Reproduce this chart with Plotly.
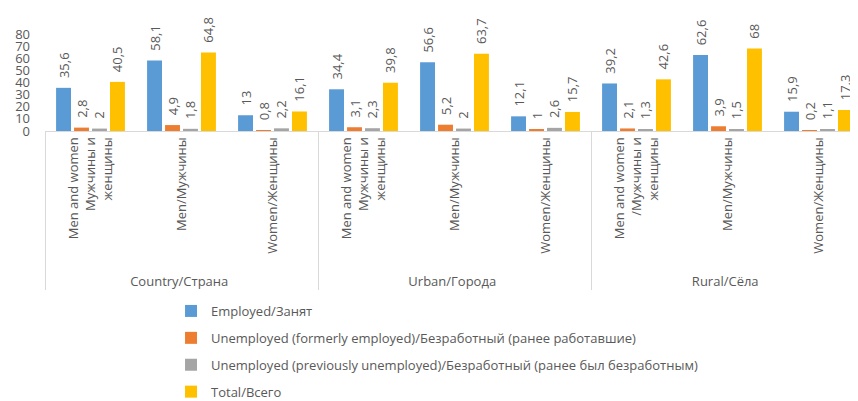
import plotly.graph_objects as go

areas = ["Country/Страна"] * 3 + ["Urban/Города"] * 3 + ["Rural/Сёла"] * 3
groups = [
    "Men and women<br>Мужчины и<br>женщины", "Men/Мужчины", "\u00a0\u00a0Women/Женщины",
    "Men and women<br>Мужчины и<br>женщины", "Men/Мужчины", "\u00a0\u00a0Women/Женщины",
    "Men and women<br>/Мужчины и<br>женщины", "Men/Мужчины", "\u00a0\u00a0Women/Женщины",
]

employed = [35.6, 58.1, 13, 34.4, 56.6, 12.1, 39.2, 62.6, 15.9]
unemp_former = [2.8, 4.9, 0.8, 3.1, 5.2, 1, 2.1, 3.9, 0.2]
unemp_prev = [2, 1.8, 2.2, 2.3, 2, 2.6, 1.3, 1.5, 1.1]
total = [40.5, 64.8, 16.1, 39.8, 63.7, 15.7, 42.6, 68, 17.3]

series_names = [
    "Employed/Занят",
    "Unemployed (formerly employed)/Безработный (ранее работавшие)",
    "Unemployed (previously unemployed)/Безработный (ранее был безработным)",
    "Total/Всего",
]
series_values = [employed, unemp_former, unemp_prev, total]
colors = ["#5B9BD5", "#ED7D31", "#A5A5A5", "#FFC000"]

FONT = "Open Sans"
GRAY = "#595959"

# feed points so that plotly's multicategory first-appearance ordering
# yields Country, Urban, Rural with sub-groups in their original order
order = [0, 3, 6, 1, 4, 7, 2, 5, 8]
x_outer = [areas[k] for k in order]
x_inner = [groups[k] for k in order]


def fmt(v):
    return "\u00a0\u00a0" + f"{v:g}".replace(".", ",")


fig = go.Figure()
for i, (name, vals, col) in enumerate(zip(series_names, series_values, colors)):
    yv = [vals[k] for k in order]
    fig.add_trace(go.Bar(
        x=[x_outer, x_inner],
        y=yv,
        name=name,
        marker=dict(color=col, line=dict(width=0)),
        text=[fmt(v) for v in yv],
        textposition="outside",
        textangle=-90,
        textfont=dict(family=FONT, size=13, color=GRAY),
        cliponaxis=False,
        constraintext="none",
        legendgroup=f"g{i}",
        hoverinfo="skip",
    ))

fig.update_layout(
    width=850,
    height=393,
    margin=dict(l=37, r=0, t=26, b=270, autoexpand=False),
    paper_bgcolor="white",
    plot_bgcolor="white",
    barmode="group",
    bargap=0.21,
    bargroupgap=0.17,
    font=dict(family=FONT, size=13, color=GRAY),
    showlegend=True,
    legend=dict(
        orientation="v",
        xref="container",
        yref="container",
        x=0.1918,
        xanchor="left",
        y=0.2672,
        yanchor="top",
        font=dict(family=FONT, size=13, color=GRAY),
        tracegroupgap=7,
        bgcolor="rgba(0,0,0,0)",
    ),
    xaxis=dict(
        type="multicategory",
        range=[-0.5, 8.5 - 6 / 91],
        automargin=False,
        showline=True,
        linecolor="#D9D9D9",
        linewidth=1,
        showgrid=False,
        zeroline=False,
        ticks="",
        tickangle=-90,
        showdividers=True,
        dividercolor="#D9D9D9",
        dividerwidth=1,
        tickfont=dict(family=FONT, size=13, color=GRAY),
    ),
    yaxis=dict(
        range=[0, 80],
        dtick=10,
        automargin=False,
        showgrid=False,
        zeroline=False,
        showline=False,
        ticks="",
        ticklabelstandoff=14,
        tickfont=dict(family=FONT, size=13, color=GRAY),
    ),
)

fig.write_html("out.html")
